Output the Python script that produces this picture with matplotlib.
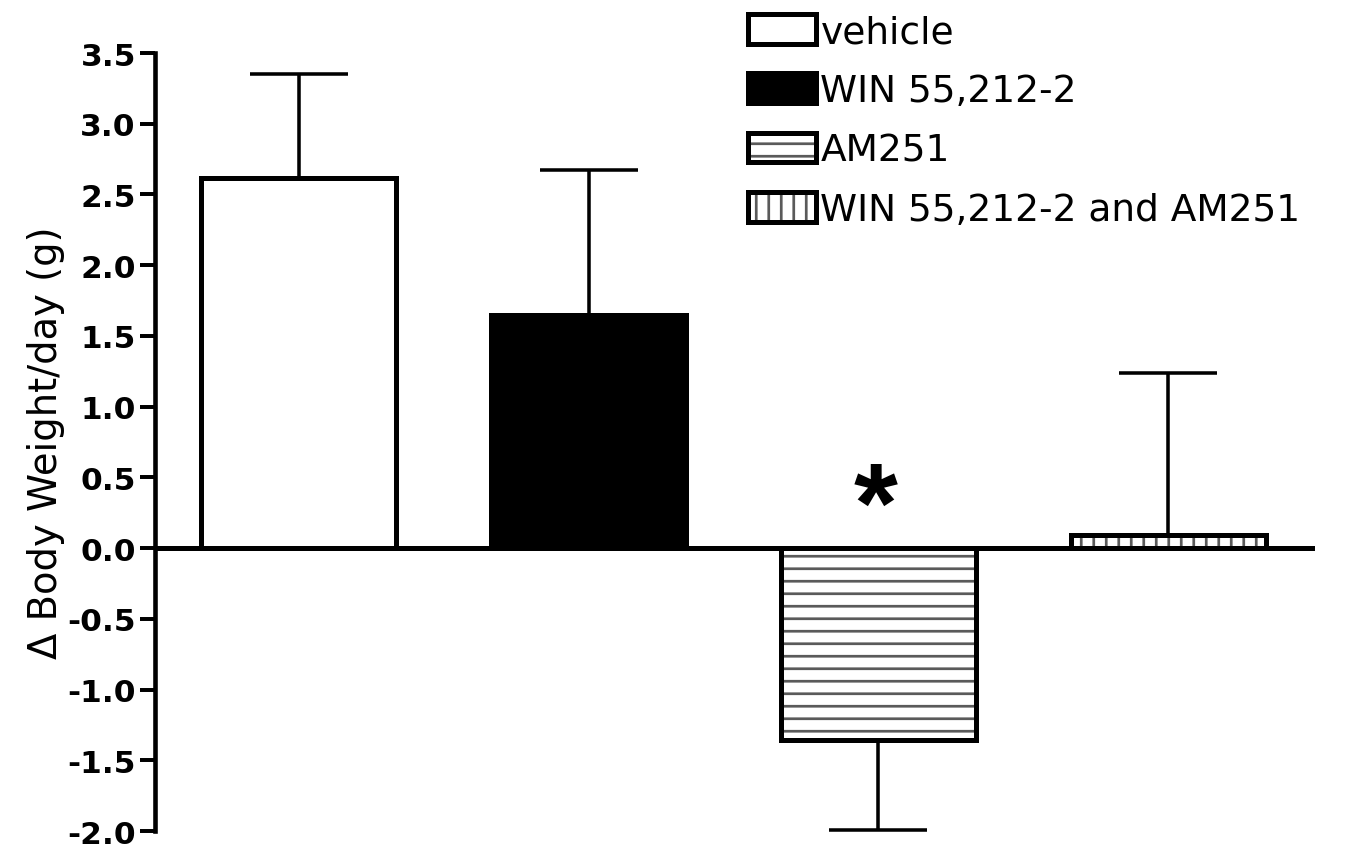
import numpy as np
import matplotlib
matplotlib.use('Agg')
import matplotlib.pyplot as plt
from matplotlib.colors import to_rgba

# data
groups = ['vehicle', 'WIN 55,212-2', 'AM251', 'WIN 55,212-2 and AM251']
means = [2.62, 1.65, -1.36, 0.09]
sem = [0.73, 1.02, 0.63, 1.15]
star_group = 2
yticks = [-2.0, -1.5, -1.0, -0.5, 0.0, 0.5, 1.0, 1.5, 2.0, 2.5, 3.0, 3.5]

plt.rcParams['font.family'] = 'DejaVu Sans'
plt.rcParams['axes.unicode_minus'] = False
plt.rcParams['hatch.linewidth'] = 1.3

fig = plt.figure(figsize=(1355 / 150, 851 / 150), dpi=150)
ax = fig.add_axes([0.1144, 0.0223, 0.856, 0.9142])

x = np.arange(len(groups))
faces = ['white', 'black', 'white', 'white']
hatches = [None, None, '--', '||']

# error bars only point away from zero
lower = [e if m < 0 else 0 for m, e in zip(means, sem)]
upper = [0 if m < 0 else e for m, e in zip(means, sem)]
ax.errorbar(x, means, yerr=[lower, upper], fmt='none', ecolor='black',
            elinewidth=1.7, capsize=23.5, capthick=1.7, zorder=1)

bars = ax.bar(x, means, width=0.675, color=faces, edgecolor='black',
              linewidth=2.4, zorder=2)
for b, h, name in zip(bars, hatches, groups):
    if h:
        b.set_hatch(h)
        b._hatch_color = to_rgba('#5a5a5a')
    b.set_label(name)

# zero line across the plot
ax.axhline(0, color='black', lw=2.4, zorder=3)

# significance mark
ax.text(x[star_group] - 0.01, 0.05, '*', fontsize=54, fontweight='bold',
        family='Liberation Sans', ha='center', va='baseline')

ax.set_xlim(-0.495, 3.505)
ax.set_ylim(-2.0, 3.5)
ax.set_xticks([])
ax.set_yticks(yticks, labels=[f'{t:.1f}' for t in yticks],
              fontweight='bold', fontsize=15)
ax.tick_params(axis='y', length=7, width=1.9, pad=2.2, direction='out')

for s in ['top', 'right', 'bottom']:
    ax.spines[s].set_visible(False)
ax.spines['left'].set_linewidth(2.2)

ax.set_ylabel('\u0394 Body Weight/day (g)', fontsize=18.5)
ax.yaxis.set_label_coords(-0.078, 0.5)

fig.legend(handles=list(bars), labels=groups, loc='upper left',
           bbox_to_anchor=(748 / 1355, 1 - 15 / 851), frameon=False,
           fontsize=18, handlelength=1.81, handleheight=0.85,
           labelspacing=0.62, handletextpad=0.12, borderpad=0,
           borderaxespad=0)

fig.savefig('out.png', dpi=150)
